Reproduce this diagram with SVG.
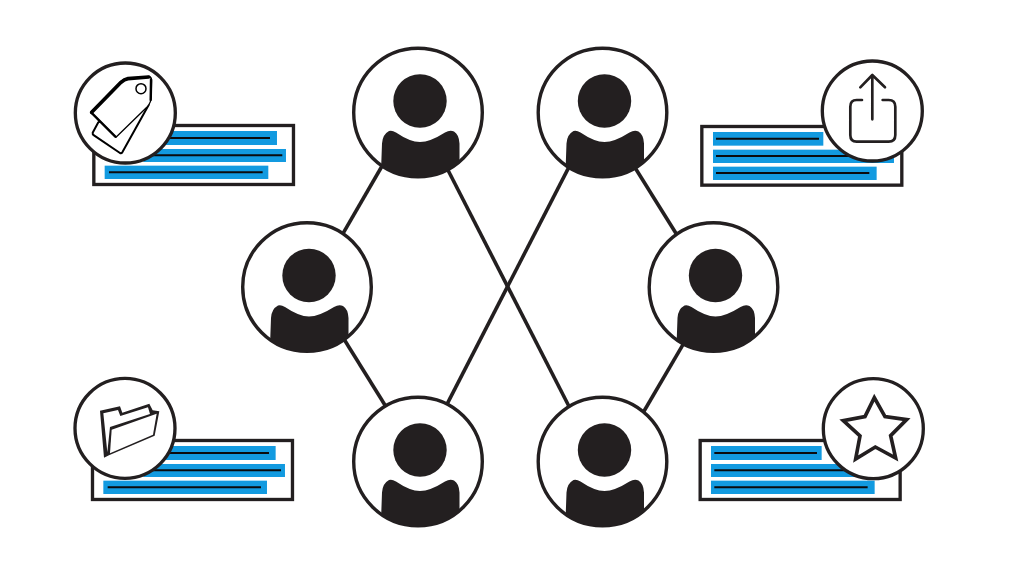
<svg xmlns="http://www.w3.org/2000/svg" width="1020" height="570" viewBox="0 0 1020 570">
<style>
.link{stroke:#231f20;stroke-width:3.6;fill:none}
.ring{fill:#fff;stroke:#231f20;stroke-width:3.4}
.ink{fill:#231f20}
.panel{fill:#fff;stroke:#231f20;stroke-width:10}
.bar{fill:#129ae0}
.txt{stroke:#0b0b0d;stroke-width:6;fill:none}
.badge{fill:#fff;stroke:#231f20;stroke-width:10}
.ico{fill:none;stroke:#231f20;stroke-width:8;stroke-linejoin:round;stroke-linecap:round}
.blk{fill:#fff;stroke:#000;stroke-linejoin:round;stroke-linecap:round}
</style>
<defs>
<g id="person">
<circle class="ring" r="64.3"/>
<circle class="ink" cx="2" cy="-11.5" r="26.7"/>
<path class="ink" d="M-36.8,53.500 L-36,31 Q-35.500,22 -29,18.500 Q-26,17.500 -22,20 Q-8,29.500 2,29.500 Q12,29.500 27,20 Q32,17 36,19 Q41,22 41.500,31 L41.500,50.500 A65.500,65.500 0 0 1 -36.8,53.500 Z"/>
</g>
</defs>
<rect width="1020" height="570" fill="#fff"/>
<g id="connectors">
<line class="link" x1="386.700" y1="158" x2="339" y2="240.400"/>
<line class="link" x1="339.700" y1="332.200" x2="389.600" y2="412.500"/>
<line class="link" x1="630.700" y1="160.800" x2="680.600" y2="240.800"/>
<line class="link" x1="687.800" y1="336.400" x2="640" y2="418"/>
<line class="link" x1="443.700" y1="161.800" x2="572.900" y2="414"/>
<line class="link" x1="572.900" y1="159.400" x2="443.700" y2="410.600"/>
</g>
<use id="node-top-left" href="#person" x="418" y="112.500"/>
<use id="node-top-right" href="#person" x="602.500" y="112.500"/>
<use id="node-mid-left" href="#person" x="307" y="287"/>
<use id="node-mid-right" href="#person" x="713.500" y="287"/>
<use id="node-bottom-left" href="#person" x="418" y="461.500"/>
<use id="node-bottom-right" href="#person" x="602.500" y="461.500"/>

<g id="panel-tags" transform="translate(60,50) scale(0.3333)">
<rect class="panel" x="101.500" y="226.500" width="599" height="177"/>
<rect class="bar" x="300" y="243" width="351" height="42"/>
<rect class="bar" x="250" y="297" width="428" height="39"/>
<rect class="bar" x="134" y="347" width="491" height="40"/>
<path class="txt" d="M300,264H630M250,315.500H667M147,367H608"/>
<circle class="badge" cx="196" cy="189" r="150"/>
<path class="blk" stroke-width="6" d="M115,217 L98,248 Q97,253 102,256 L180,309 Q184,311 187,307 L266,165 L200,170 Z"/>
<path class="blk" stroke-width="4" d="M93,187 L185,92 Q193,86 204,85 L268,79 Q275,82 275,92 L274,140 Q273,158 262,170 L168,262 Z"/>
<path fill="none" stroke="#000" stroke-width="11" stroke-linejoin="round" stroke-linecap="round" d="M95,187 L183,97 Q193,88 204,86 L266,81"/>
<path fill="none" stroke="#000" stroke-width="7" stroke-linecap="round" d="M94,188 L166,260 M273,88 L272,150"/>
<circle cx="243" cy="116" r="15" fill="#fff" stroke="#000" stroke-width="4.500"/>
</g>

<g id="panel-share" transform="translate(690,50) scale(0.3333)">
<rect class="panel" x="35.500" y="229.500" width="600" height="176"/>
<rect class="bar" x="69" y="246" width="331" height="41"/>
<rect class="bar" x="69" y="299" width="543" height="40"/>
<rect class="bar" x="69" y="350" width="491" height="40"/>
<path class="txt" d="M78,266H387M78,318H480M78,369H538"/>
<circle class="badge" cx="547" cy="183" r="150"/>
<path class="ico" d="M547,208V76M511,112L547,75L585,112M516,150H500Q481,150 481,170V255Q481,275 500,275H596Q616,275 616,255V170Q616,150 596,150H578"/>
</g>

<g id="panel-folder" transform="translate(60,365) scale(0.3333)">
<rect class="panel" x="97.500" y="226.500" width="600" height="177"/>
<rect class="bar" x="300" y="243" width="347" height="42"/>
<rect class="bar" x="250" y="297" width="425" height="39"/>
<rect class="bar" x="130" y="347" width="491" height="40"/>
<path class="txt" d="M300,264H627M250,315.500H663M143,367H603"/>
<circle class="badge" cx="195" cy="190" r="150"/>
<path class="ink" d="M120,137 L180,124 L187,143 L268,116 L278,136 L298,139 L284,212 L147,271 L132,278 Z"/>
<path fill="#fff" d="M130,145 L174,135 L181,153 L264,127 L270,147 L150,186 L142,262 Z"/>
<path fill="#fff" d="M155,194 L290,146 L279,209 L150,265 Z"/>
</g>

<g id="panel-star" transform="translate(690,365) scale(0.3333)">
<rect class="panel" x="30.500" y="226.500" width="600" height="177"/>
<rect class="bar" x="63" y="243" width="332" height="42"/>
<rect class="bar" x="63" y="297" width="491" height="39"/>
<rect class="bar" x="63" y="347" width="491" height="40"/>
<path class="txt" d="M73,264H381M73,315.500H470M73,367H533"/>
<circle class="badge" cx="550" cy="191" r="150"/>
<path fill="none" stroke="#231f20" stroke-width="11" stroke-linejoin="miter" d="M553,98 L585,155 L650,164 L602,212 L617,279 L556,246 L497,282 L510,213 L460,167 L525,155 Z"/>
</g>
</svg>
